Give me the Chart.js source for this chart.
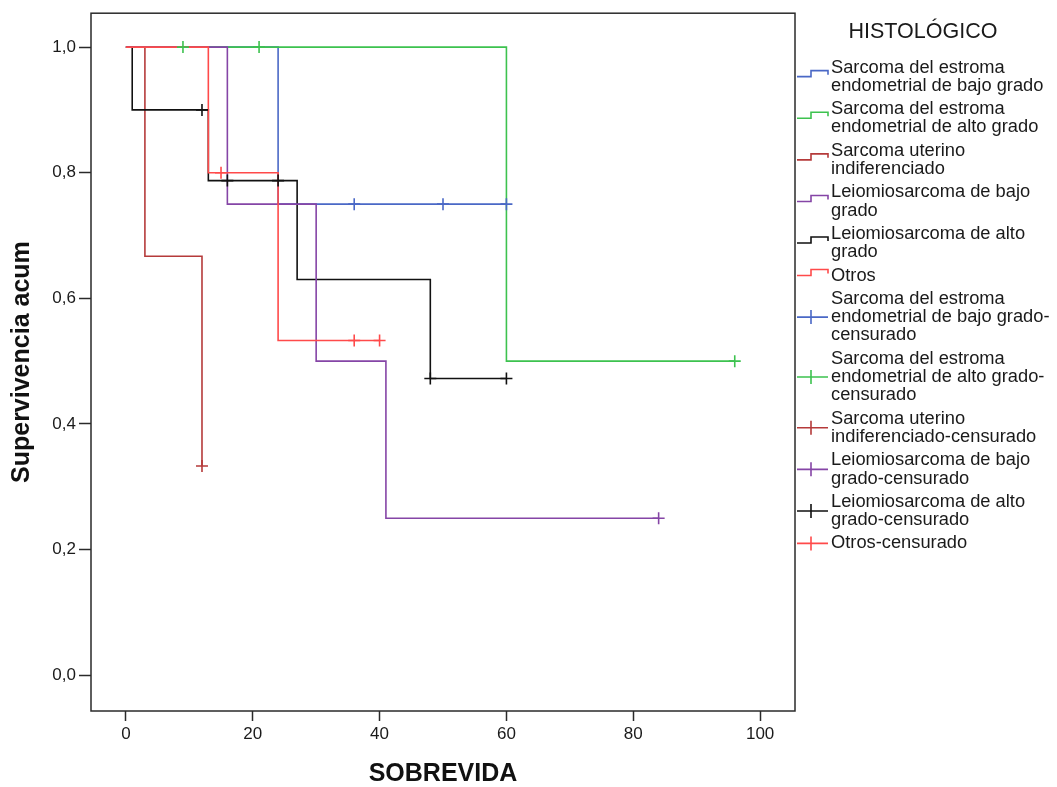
<!DOCTYPE html>
<html lang="es">
<head>
<meta charset="utf-8">
<title>Supervivencia por histológico</title>
<script src="https://cdn.jsdelivr.net/npm/chart.js"></script>
<style>
  body { margin: 0; background: #fff; }
  canvas { display: block; }
</style>
</head>
<body>
<canvas id="kmChart" width="1057" height="787"></canvas>
<script>
// axis ticks
const xTicks = [0, 20, 40, 60, 80, 100];
const yTicks = [0, 0.2, 0.4, 0.6, 0.8, 1.0];

// legend text (as it is broken in the picture)
const legendTitle = 'HISTOLÓGICO';
const groupLabels = [
  ['Sarcoma del estroma', 'endometrial de bajo grado'],
  ['Sarcoma del estroma', 'endometrial de alto grado'],
  ['Sarcoma uterino', 'indiferenciado'],
  ['Leiomiosarcoma de bajo', 'grado'],
  ['Leiomiosarcoma de alto', 'grado'],
  ['Otros']
];
const censLabels = [
  ['Sarcoma del estroma', 'endometrial de bajo grado-', 'censurado'],
  ['Sarcoma del estroma', 'endometrial de alto grado-', 'censurado'],
  ['Sarcoma uterino', 'indiferenciado-censurado'],
  ['Leiomiosarcoma de bajo', 'grado-censurado'],
  ['Leiomiosarcoma de alto', 'grado-censurado'],
  ['Otros-censurado']
];
const groupColors = ['#4a68c6', '#3dc24f', '#b53a3a', '#8545a6', '#111111', '#ff4a4a'];

// survival steps (time, survival after the step) and censored cases
const sebgTime = [0, 24, 60],           sebgSurv = [1, 0.75, 0.75];
const sebgCensTime = [36, 50, 60],      sebgCensSurv = [0.75, 0.75, 0.75];
const seagTime = [0, 60, 96],           seagSurv = [1, 0.5, 0.5];
const seagCensTime = [9, 21, 96],       seagCensSurv = [1, 1, 0.5];
const suiTime = [0, 3, 12],             suiSurv = [1, 0.667, 0.333];
const suiCensTime = [12],               suiCensSurv = [0.333];
const lmsbTime = [0, 16, 30, 41, 84],   lmsbSurv = [1, 0.75, 0.5, 0.25, 0.25];
const lmsbCensTime = [84],              lmsbCensSurv = [0.25];
const lmsaTime = [0, 1, 13, 27, 48, 60], lmsaSurv = [1, 0.9, 0.7875, 0.63, 0.4725, 0.4725];
const lmsaCensTime = [12, 16, 24, 48, 60], lmsaCensSurv = [0.9, 0.7875, 0.7875, 0.4725, 0.4725];
const otrosTime = [0, 13, 24, 40],      otrosSurv = [1, 0.8, 0.533, 0.533];
const otrosCensTime = [15, 36, 40],     otrosCensSurv = [0.8, 0.533, 0.533];

const curves = [
  [sebgTime, sebgSurv], [seagTime, seagSurv], [suiTime, suiSurv],
  [lmsbTime, lmsbSurv], [lmsaTime, lmsaSurv], [otrosTime, otrosSurv]
];
const censored = [
  [sebgCensTime, sebgCensSurv], [seagCensTime, seagCensSurv], [suiCensTime, suiCensSurv],
  [lmsbCensTime, lmsbCensSurv], [lmsaCensTime, lmsaCensSurv], [otrosCensTime, otrosCensSurv]
];
// which curve lies on top (lower = on top)
const lineOrder = [16, 13, 14, 11, 12, 10];

function toPoints(t, s) {
  return t.map((v, i) => ({ x: v, y: s[i] }));
}

const datasets = [];
curves.forEach((c, i) => {
  datasets.push({
    data: toPoints(c[0], c[1]),
    showLine: true,
    stepped: true,
    borderColor: groupColors[i],
    borderWidth: 1.6,
    pointRadius: 0,
    order: lineOrder[i]
  });
});
censored.forEach((c, i) => {
  datasets.push({
    data: toPoints(c[0], c[1]),
    showLine: false,
    pointStyle: 'cross',
    pointRadius: 6,
    pointBorderWidth: 1.6,
    borderColor: groupColors[i],
    backgroundColor: groupColors[i],
    order: i
  });
});

const FONT = '"Liberation Sans", Arial, sans-serif';
const LINE = 18.3, GAP = 23.3;

// SPSS style legend at the right of the frame
const spssLegend = {
  id: 'spssLegend',
  afterDraw(chart) {
    const ctx = chart.ctx;
    const area = chart.chartArea;
    const left = area.right;

    // frame around the plot
    ctx.save();
    ctx.strokeStyle = '#2a2a2a';
    ctx.lineWidth = 1.5;
    ctx.strokeRect(area.left, area.top, area.right - area.left, area.bottom - area.top);

    ctx.fillStyle = '#1a1a1a';
    ctx.textBaseline = 'middle';
    ctx.font = '21.5px ' + FONT;
    ctx.textAlign = 'center';
    ctx.fillText(legendTitle, left + 128, 32);

    const items = [];
    groupLabels.forEach((l, i) => items.push({ lines: l, color: groupColors[i], cens: false }));
    censLabels.forEach((l, i) => items.push({ lines: l, color: groupColors[i], cens: true }));

    ctx.font = '18.3px ' + FONT;
    ctx.textAlign = 'left';
    let y = 67.5;
    items.forEach(item => {
      const n = item.lines.length;
      const c = y + (n - 1) * LINE / 2;
      ctx.fillStyle = '#1a1a1a';
      item.lines.forEach((t, k) => ctx.fillText(t, left + 36, y + k * LINE));
      ctx.strokeStyle = item.color;
      ctx.lineWidth = 1.6;
      ctx.beginPath();
      if (item.cens) {
        ctx.moveTo(left + 2, c);
        ctx.lineTo(left + 33, c);
        ctx.moveTo(left + 16, c - 7);
        ctx.lineTo(left + 16, c + 7);
      } else {
        ctx.moveTo(left + 2, c);
        ctx.lineTo(left + 16, c);
        ctx.lineTo(left + 16, c - 6);
        ctx.lineTo(left + 33, c - 6);
        ctx.lineTo(left + 33, c - 2);
      }
      ctx.stroke();
      y += (n - 1) * LINE + GAP;
    });
    ctx.restore();
  }
};

new Chart(document.getElementById('kmChart'), {
  type: 'scatter',
  data: { datasets: datasets },
  plugins: [spssLegend],
  options: {
    responsive: false,
    animation: false,
    layout: { padding: { top: 10, right: 262, bottom: 0, left: 0 } },
    plugins: { legend: { display: false }, tooltip: { enabled: false } },
    scales: {
      x: {
        type: 'linear',
        min: -5.5,
        max: 105.5,
        afterBuildTicks: s => { s.ticks = xTicks.map(v => ({ value: v })); },
        afterFit: s => { s.height = 76; },
        grid: { drawOnChartArea: false, drawTicks: true, tickLength: 10, tickWidth: 1.5, tickColor: '#2a2a2a' },
        border: { display: false },
        ticks: { padding: 3, color: '#1a1a1a', autoSkip: false, maxRotation: 0, font: { family: FONT, size: 17 } },
        title: {
          display: true, text: 'SOBREVIDA', color: '#111',
          font: { family: FONT, size: 25, weight: 'bold', lineHeight: 1.0 },
          padding: { top: 0, bottom: 0 }
        }
      },
      y: {
        type: 'linear',
        min: -0.057,
        max: 1.054,
        afterBuildTicks: s => { s.ticks = yTicks.map(v => ({ value: v })); },
        afterFit: s => { s.width = 91; },
        grid: { drawOnChartArea: false, drawTicks: true, tickLength: 12, tickWidth: 1.5, tickColor: '#2a2a2a' },
        border: { display: false },
        ticks: {
          padding: 3, color: '#1a1a1a', font: { family: FONT, size: 17 },
          callback: v => v.toFixed(1).replace('.', ',')
        },
        title: {
          display: true, text: 'Supervivencia acum', color: '#111',
          font: { family: FONT, size: 25, weight: 'bold', lineHeight: 1.0 },
          padding: { top: 10, bottom: 0 }
        }
      }
    }
  }
});
</script>
</body>
</html>
